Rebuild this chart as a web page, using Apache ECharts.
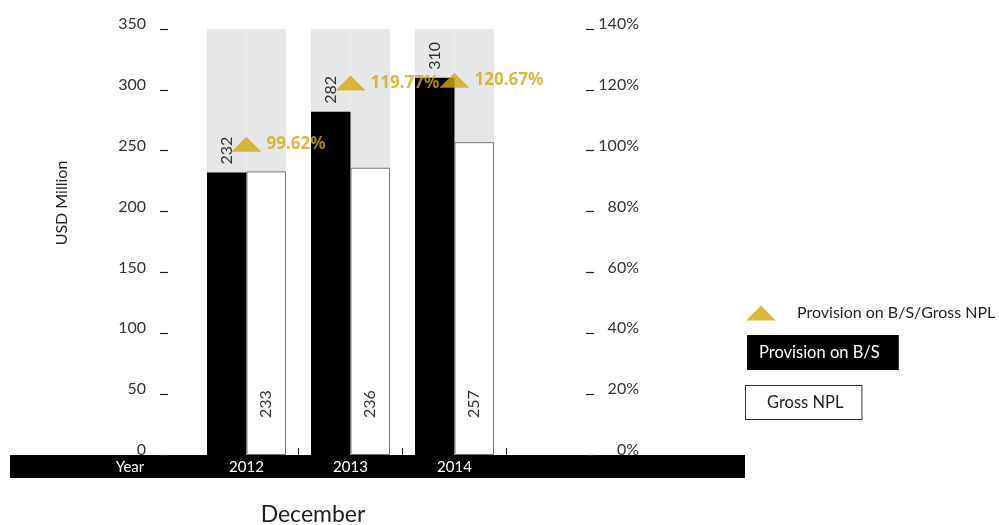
<!DOCTYPE html>
<html lang="en">
<head>
    <meta charset="UTF-8">
    <title>Provision on B/S vs Gross NPL</title>
    <script src="https://cdn.jsdelivr.net/npm/echarts@6/dist/echarts.min.js"></script>
    <style>
        html, body { margin: 0; padding: 0; background: #fff; }
        #chart { width: 999px; height: 525px; }
    </style>
</head>
<body>
    <div id="chart"></div>
    <script>
        // data
        var years = ['2012', '2013', '2014'];
        var provision = [232, 282, 310];      // Provision on B/S, USD million
        var grossNpl = [233, 236, 257];       // Gross NPL, USD million
        var coverage = [99.62, 119.77, 120.67]; // Provision on B/S / Gross NPL, %

        var FONT = 'Lato, "Open Sans", sans-serif';
        var BOLD_FONT = '"Noto Sans", "DejaVu Sans", sans-serif';
        var GOLD = '#d4a80c';
        var INK = '#231f20';

        var chartDiv = document.getElementById('chart');
        var myChart = echarts.init(chartDiv);

        option = {
            animation: false,
            textStyle: { fontFamily: FONT },
            grid: {
                left: 194.5,
                right: 492.5,
                top: 29,
                bottom: 70,
                containLabel: false,
                outerBoundsMode: 'none'
            },
            legend: [
                {
                    left: 746, top: 305, padding: 0,
                    itemWidth: 30, itemHeight: 15,
                    selectedMode: false,
                    data: [{ name: 'Provision on B/S/Gross NPL', icon: 'triangle' }],
                    textStyle: { fontFamily: FONT, fontSize: 16, color: INK, padding: [0, 0, 0, 16] }
                },
                {
                    left: 742, top: 335, padding: 0,
                    itemWidth: 0, itemHeight: 35,
                    selectedMode: false,
                    data: [{ name: 'Provision on B/S', icon: 'none' }],
                    textStyle: {
                        fontFamily: FONT, fontSize: 16.5, color: '#fff', lineHeight: 17,
                        backgroundColor: '#000', padding: [9, 19, 9, 12]
                    }
                },
                {
                    left: 741, top: 385, padding: 0,
                    itemWidth: 0, itemHeight: 34,
                    selectedMode: false,
                    data: [{ name: 'Gross NPL', icon: 'none' }],
                    textStyle: {
                        fontFamily: FONT, fontSize: 16.5, color: INK, lineHeight: 17,
                        backgroundColor: '#fff', borderColor: '#333', borderWidth: 1,
                        padding: [8, 18, 8, 21]
                    }
                }
            ],
            xAxis: {
                type: 'category',
                data: years,
                axisLine: { show: false },
                axisTick: {
                    show: true, inside: true, length: 7,
                    interval: function (i) { return i !== 0; },
                    lineStyle: { color: INK, width: 1 }
                },
                axisLabel: { color: '#fff', fontSize: 15, margin: 5, fontFamily: FONT },
                splitLine: { show: false }
            },
            yAxis: [
                {
                    type: 'value', min: 0, max: 350, interval: 50,
                    offset: 26.5,
                    axisLine: { show: false },
                    axisTick: { show: true, length: 8, lineStyle: { color: INK, width: 1.2 } },
                    axisLabel: {
                        color: '#333', fontSize: 16, margin: 22, fontFamily: FONT,
                        verticalAlign: 'bottom', lineHeight: 10
                    },
                    splitLine: { show: false }
                },
                {
                    type: 'value', min: 0, max: 140, interval: 20,
                    position: 'right', offset: 79.5,
                    axisLine: { show: false },
                    axisTick: { show: true, length: 8, lineStyle: { color: INK, width: 1.2 } },
                    axisLabel: {
                        color: '#333', fontSize: 16, margin: 53, align: 'right',
                        verticalAlign: 'bottom', lineHeight: 10, fontFamily: FONT,
                        formatter: '{value}%'
                    },
                    splitLine: { show: false }
                }
            ],
            graphic: [
                { type: 'rect', z: -1, shape: { x: 10, y: 455, width: 735, height: 23 }, style: { fill: '#000' } },
                { type: 'text', x: 130, y: 467, style: { text: 'Year', fill: '#fff', font: '15px ' + FONT, align: 'center', verticalAlign: 'middle' } },
                { type: 'text', x: 62, y: 203, rotation: Math.PI / 2, style: { text: 'USD Million', fill: INK, font: '16px ' + FONT, align: 'center', verticalAlign: 'middle' } },
                { type: 'text', x: 313, y: 515, style: { text: 'December', fill: INK, font: '23px ' + FONT, align: 'center', verticalAlign: 'middle' } }
            ],
            series: [
                {
                    name: 'Provision on B/S',
                    type: 'bar',
                    data: provision,
                    barWidth: 39.5,
                    barGap: '0%',
                    itemStyle: { color: '#000' },
                    showBackground: true,
                    backgroundStyle: { color: '#e6e7e8' },
                    label: {
                        show: true, position: 'top', rotate: 90, distance: 8,
                        align: 'left', verticalAlign: 'middle',
                        color: '#333', fontSize: 16, fontFamily: FONT
                    }
                },
                {
                    name: 'Gross NPL',
                    type: 'bar',
                    data: grossNpl,
                    barWidth: 39.5,
                    barGap: '0%',
                    itemStyle: { color: '#fff', borderColor: '#777', borderWidth: 1 },
                    showBackground: true,
                    backgroundStyle: { color: '#e6e7e8' },
                    label: {
                        show: true, position: 'insideBottom', rotate: 90, distance: 37,
                        align: 'left', verticalAlign: 'middle',
                        color: '#333', fontSize: 16, fontFamily: FONT
                    }
                },
                {
                    name: 'Provision on B/S/Gross NPL',
                    type: 'scatter',
                    yAxisIndex: 1,
                    data: coverage,
                    symbol: 'triangle',
                    symbolSize: [30, 15],
                    symbolOffset: [0, '-50%'],
                    z: 3,
                    itemStyle: { color: GOLD },
                    label: {
                        show: true, position: 'right', distance: 5,
                        color: GOLD, fontSize: 17, fontWeight: 'bold', fontFamily: BOLD_FONT,
                        formatter: '{c}%'
                    }
                }
            ]
        };
        myChart.setOption(option);
    </script>
</body>
</html>
